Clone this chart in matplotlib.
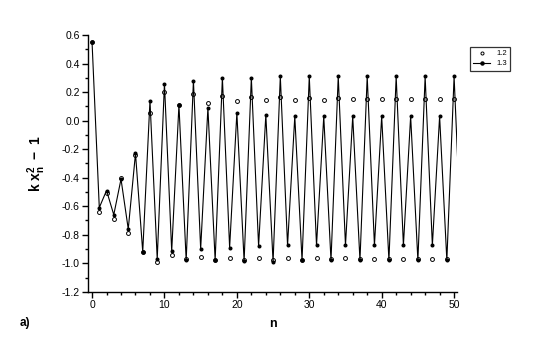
import matplotlib
matplotlib.use('Agg')
import matplotlib.pyplot as plt
from matplotlib.ticker import MultipleLocator

plt.rcParams['font.family'] = ['Liberation Sans', 'DejaVu Sans']
plt.rcParams['mathtext.fontset'] = 'custom'
plt.rcParams['mathtext.rm'] = 'Liberation Sans:bold'
plt.rcParams['mathtext.it'] = 'Liberation Sans:bold'
plt.rcParams['mathtext.bf'] = 'Liberation Sans:bold'

# values, n = 0..51
n = list(range(52))

k12 = [0.55, -0.64, -0.51, -0.69, -0.40, -0.785, -0.24, -0.92, 0.055, -0.99,
       0.20, -0.945, 0.11, -0.97, 0.19, -0.955, 0.125, -0.975, 0.175, -0.96,
       0.137, -0.98, 0.168, -0.96, 0.144, -0.975, 0.165, -0.96, 0.145, -0.975,
       0.16, -0.965, 0.148, -0.972, 0.157, -0.966, 0.15, -0.97, 0.155, -0.967,
       0.15, -0.97, 0.153, -0.968, 0.15, -0.97, 0.152, -0.968, 0.15, -0.97,
       0.151, -0.969]

k13 = [0.55, -0.61, -0.49, -0.66, -0.41, -0.76, -0.23, -0.92, 0.14, -0.97,
       0.26, -0.915, 0.11, -0.98, 0.28, -0.90, 0.09, -0.98, 0.30, -0.89,
       0.055, -0.985, 0.30, -0.88, 0.04, -0.99, 0.31, -0.875, 0.03, -0.98,
       0.31, -0.875, 0.03, -0.98, 0.31, -0.875, 0.03, -0.98, 0.31, -0.875,
       0.03, -0.98, 0.31, -0.875, 0.03, -0.98, 0.31, -0.875, 0.03, -0.98,
       0.31, -0.875]

labels = ['1.2', '1.3']

fig = plt.figure(figsize=(5.37, 3.58), dpi=100)
ax = fig.add_axes([0.164, 0.185, 0.687, 0.717])

ax.plot(n, k12, linestyle='none', marker='o', markersize=2.8,
        markerfacecolor='white', markeredgecolor='black', markeredgewidth=0.7,
        label=labels[0])
ax.plot(n, k13, color='black', linewidth=0.8, marker='o', markersize=1.9,
        markerfacecolor='black', markeredgecolor='black', label=labels[1])

ax.set_xlim(-0.55, 50.4)
ax.set_ylim(-1.2, 0.6)
ax.xaxis.set_major_locator(MultipleLocator(10))
ax.xaxis.set_minor_locator(MultipleLocator(2))
ax.yaxis.set_major_locator(MultipleLocator(0.2))
ax.yaxis.set_minor_locator(MultipleLocator(0.1))
ax.yaxis.set_major_formatter(plt.FuncFormatter(lambda v, p: f'{v:.1f}'))

for side in ['top', 'right']:
    ax.spines[side].set_visible(False)
for side in ['left', 'bottom']:
    ax.spines[side].set_linewidth(1.0)

ax.tick_params(which='major', direction='out', length=4, width=1.0, labelsize=7.5, pad=2)
ax.tick_params(which='minor', direction='out', length=2.5, width=1.0)

ax.set_xlabel('n', fontsize=9, fontweight='bold', labelpad=6)
ax.set_ylabel(r'$\mathrm{k\ x_n^2\ -\ 1}$', fontsize=10, labelpad=10)

fig.text(0.037, 0.09, 'a)', fontsize=8.5, fontweight='bold')

leg = ax.legend(loc='upper left', bbox_to_anchor=(1.025, 0.97), fontsize=5.5,
                frameon=True, fancybox=False, edgecolor='black', handlelength=2.2,
                handletextpad=0.8, borderpad=0.45, labelspacing=0.35)
leg.get_frame().set_linewidth(0.9)
for h in leg.get_lines():
    h.set_markersize(2.2)

fig.savefig('out.png', dpi=100)
